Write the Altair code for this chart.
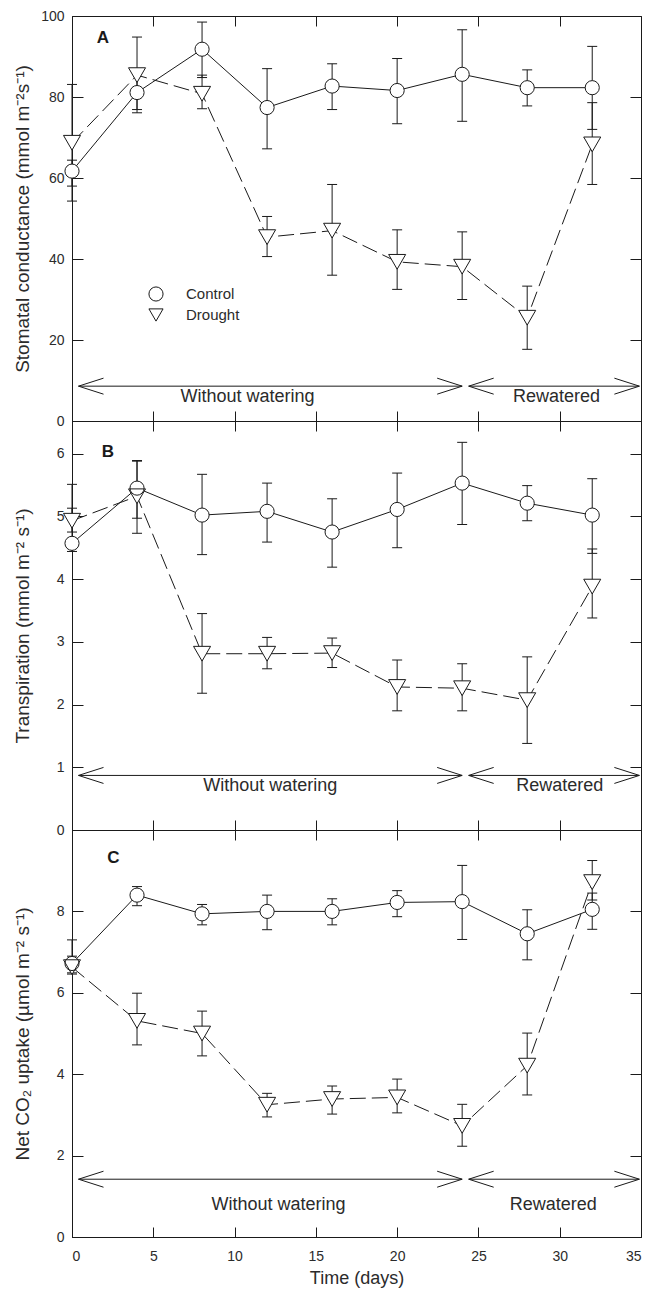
import altair as alt
import pandas as pd

# ---------------- data ----------------
days = [0, 4, 8, 12, 16, 20, 24, 28, 32]
groups = ["Control", "Drought"]

# Panel A: stomatal conductance
ctrl_A = [61.7, 81.1, 91.8, 77.4, 82.7, 81.6, 85.6, 82.3, 82.3]
ctrl_A_lo = [58.0, 76.1, 84.8, 67.2, 76.9, 73.4, 74.0, 77.8, 72.0]
ctrl_A_hi = [64.4, 86.0, 98.5, 87.0, 88.2, 89.5, 96.6, 86.7, 92.5]
drt_A = [68.7, 85.4, 80.8, 45.4, 47.0, 39.3, 38.1, 25.5, 68.3]
drt_A_lo = [54.3, 76.9, 77.1, 40.6, 36.0, 32.5, 30.0, 17.7, 58.4]
drt_A_hi = [83.1, 94.8, 85.4, 50.5, 58.4, 47.2, 46.7, 33.3, 78.6]

# Panel B: transpiration
ctrl_B = [4.57, 5.45, 5.02, 5.08, 4.75, 5.11, 5.53, 5.21, 5.02]
ctrl_B_lo = [4.44, 4.73, 4.39, 4.59, 4.19, 4.50, 4.87, 4.93, 4.41]
ctrl_B_hi = [5.13, 5.88, 5.67, 5.53, 5.28, 5.69, 6.18, 5.49, 5.60]
drt_B = [4.93, 5.32, 2.81, 2.81, 2.82, 2.28, 2.26, 2.07, 3.88]
drt_B_lo = [4.75, 4.97, 2.18, 2.57, 2.59, 1.90, 1.90, 1.38, 3.38]
drt_B_hi = [5.51, 5.89, 3.45, 3.07, 3.06, 2.71, 2.65, 2.76, 4.48]

# Panel C: net CO2 uptake
ctrl_C = [6.72, 8.40, 7.94, 8.00, 8.00, 8.22, 8.24, 7.45, 8.05]
ctrl_C_lo = [6.49, 8.14, 7.67, 7.55, 7.67, 7.87, 7.31, 6.81, 7.56]
ctrl_C_hi = [7.30, 8.61, 8.17, 8.40, 8.31, 8.51, 9.13, 8.04, 8.45]
drt_C = [6.63, 5.31, 5.00, 3.25, 3.39, 3.43, 2.73, 4.21, 8.72]
drt_C_lo = [6.46, 4.72, 4.45, 2.95, 3.02, 3.05, 2.23, 3.49, 8.28]
drt_C_hi = [6.90, 5.99, 5.55, 3.53, 3.71, 3.88, 3.26, 5.01, 9.25]

# annotations
phase_text = ["Without watering", "Rewatered"]
arrow_start = [0.4, 24.4]
arrow_end = [24.0, 34.9]
panel_letters = ["A", "B", "C"]

x_ticks = [0, 5, 10, 15, 20, 25, 30, 35]

# ---------------- styling ----------------
W = 569
FONT = "Liberation Sans, Arial, Helvetica, sans-serif"
INK = "#1a1a1a"
TXT = "#2b2b2b"
LEFT_HEAD = "M 2 -0.64 L 0 0 L 2 0.64"
RIGHT_HEAD = "M -2 -0.64 L 0 0 L -2 0.64"
SIZE_C, SIZE_D = 200, 290


def panel_df(c, clo, chi, d, dlo, dhi):
    rows = []
    for g, v, lo, hi in (("Control", c, clo, chi), ("Drought", d, dlo, dhi)):
        for day, a, l, h in zip(days, v, lo, hi):
            rows.append({"day": day, "group": g, "value": a, "lo": l, "hi": h})
    return pd.DataFrame(rows)


def make_panel(df, ymax, height, ytitle, ylabels, yticks, letter, letter_day, letter_val,
               arrow_y, text_days, text_y, show_x, show_legend):
    xs = alt.Scale(domain=[0, 35], nice=False, zero=False)
    ys = alt.Scale(domain=[0, ymax], nice=False, zero=False)
    base = alt.Chart(df)
    ctrl = base.transform_filter(alt.datum.group == "Control")
    drt = base.transform_filter(alt.datum.group == "Drought")

    def X(field):
        return alt.X(field, scale=xs, axis=None)

    def Y(field):
        return alt.Y(field, scale=ys, axis=None)

    line_c = ctrl.mark_line(color=INK, strokeWidth=1).encode(x=X("day:Q"), y=Y("value:Q"))
    line_d = drt.mark_line(color=INK, strokeWidth=1, strokeDash=[16, 6]).encode(x=X("day:Q"), y=Y("value:Q"))
    err = base.mark_rule(color=INK, strokeWidth=1).encode(x=X("day:Q"), y=Y("lo:Q"), y2="hi:Q")
    cap_lo = base.mark_point(shape="stroke", size=100, stroke=INK, strokeWidth=1, opacity=1).encode(
        x=X("day:Q"), y=Y("lo:Q"))
    cap_hi = base.mark_point(shape="stroke", size=100, stroke=INK, strokeWidth=1, opacity=1).encode(
        x=X("day:Q"), y=Y("hi:Q"))

    # white fills under the open markers (hide lines inside the symbols)
    fill_c = ctrl.mark_point(shape="circle", filled=True, color="white", opacity=1, size=SIZE_C).encode(
        x=X("day:Q"), y=Y("value:Q"))
    fill_d = drt.mark_point(shape="triangle-down", filled=True, color="white", opacity=1, size=SIZE_D).encode(
        x=X("day:Q"), y=Y("value:Q"))

    if show_legend:
        leg = alt.Legend(
            orient="none", legendX=76, legendY=270, title=None, padding=0,
            labelFont=FONT, labelFontSize=15, labelColor=TXT, labelOffset=22,
            symbolSize=200, symbolStrokeColor=INK, symbolStrokeWidth=1,
            symbolFillColor="white", rowPadding=2,
        )
    else:
        leg = None
    shape_enc = alt.Shape("group:N", scale=alt.Scale(domain=groups, range=["circle", "triangle-down"]), legend=leg)
    pts_c = ctrl.mark_point(filled=False, color=INK, strokeWidth=1, opacity=1, size=SIZE_C).encode(
        x=X("day:Q"), y=Y("value:Q"), shape=shape_enc)
    pts_d = drt.mark_point(filled=False, color=INK, strokeWidth=1, opacity=1, size=SIZE_D).encode(
        x=X("day:Q"), y=Y("value:Q"), shape=shape_enc)

    arr_df = pd.DataFrame({"x": arrow_start, "x2": arrow_end, "y": [arrow_y] * len(arrow_start)})
    arr = alt.Chart(arr_df).mark_rule(color=INK, strokeWidth=1).encode(x=X("x:Q"), x2="x2:Q", y=Y("y:Q"))
    head_l = alt.Chart(arr_df).mark_point(shape=LEFT_HEAD, size=625, filled=False, stroke=INK,
                                          strokeWidth=1, opacity=1).encode(x=X("x:Q"), y=Y("y:Q"))
    head_r = alt.Chart(arr_df).mark_point(shape=RIGHT_HEAD, size=625, filled=False, stroke=INK,
                                          strokeWidth=1, opacity=1).encode(x=X("x2:Q"), y=Y("y:Q"))
    txt_df = pd.DataFrame({"x": text_days, "y": [text_y] * len(text_days), "t": phase_text})
    txt = alt.Chart(txt_df).mark_text(font=FONT, fontSize=18, color=TXT, baseline="middle").encode(
        x=X("x:Q"), y=Y("y:Q"), text="t:N")
    let_df = pd.DataFrame({"x": [letter_day], "y": [letter_val], "t": [letter]})
    let = alt.Chart(let_df).mark_text(font=FONT, fontSize=17, fontWeight="bold", color=INK,
                                      baseline="middle").encode(x=X("x:Q"), y=Y("y:Q"), text="t:N")

    inner = alt.layer(line_c, line_d, err, cap_lo, cap_hi, arr, head_l, head_r, txt, let,
                      fill_c, fill_d, pts_c, pts_d)

    # main axes (labels + titles)
    yaxis_main = alt.Axis(
        orient="left", values=ylabels, ticks=False, tickSize=0, domain=True,
        domainColor=INK, labelFont=FONT, labelFontSize=14, labelColor=TXT,
        labelPadding=8, title=ytitle, titleFont=FONT, titleFontSize=19,
        titleFontWeight="normal", titleColor=TXT, titleX=-40, grid=False,
    )
    if show_x:
        xaxis_main = alt.Axis(
            orient="bottom", values=x_ticks, ticks=False, tickSize=0, domain=True,
            domainColor=INK, labelFont=FONT, labelFontSize=14, labelColor=TXT,
            labelPadding=12, title="Time (days)", titleFont=FONT, titleFontSize=18,
            titleFontWeight="normal", titleColor=TXT, titlePadding=6, grid=False,
        )
    else:
        xaxis_main = None
    t0 = base.mark_point(opacity=0).encode(
        x=alt.X("day:Q", scale=xs, axis=xaxis_main),
        y=alt.Y("value:Q", scale=ys, axis=yaxis_main),
    )

    # inward ticks on all four sides
    tick_common = dict(labels=False, domain=False, title=None, grid=False, tickColor=INK, tickWidth=1)
    t1 = base.mark_point(opacity=0).encode(
        x=alt.X("day:Q", scale=xs, axis=alt.Axis(orient="top", offset=-height, values=x_ticks,
                                                  tickSize=10, **tick_common)),
        y=alt.Y("value:Q", scale=ys, axis=alt.Axis(orient="right", offset=-W, values=yticks,
                                                    tickSize=11, **tick_common)),
    )
    t2 = base.mark_point(opacity=0).encode(
        x=alt.X("day:Q", scale=xs, axis=alt.Axis(orient="bottom", offset=-height, values=x_ticks,
                                                  tickSize=10, **tick_common)),
        y=alt.Y("value:Q", scale=ys, axis=alt.Axis(orient="left", offset=-W, values=yticks,
                                                    tickSize=11, **tick_common)),
    )
    return (
        alt.layer(inner, t0, t1, t2)
        .resolve_axis(x="independent", y="independent")
        .properties(width=W, height=height)
    )


dfA = panel_df(ctrl_A, ctrl_A_lo, ctrl_A_hi, drt_A, drt_A_lo, drt_A_hi)
dfB = panel_df(ctrl_B, ctrl_B_lo, ctrl_B_hi, drt_B, drt_B_lo, drt_B_hi)
dfC = panel_df(ctrl_C, ctrl_C_lo, ctrl_C_hi, drt_C, drt_C_lo, drt_C_hi)

pA = make_panel(dfA, 100, 405, "Stomatal conductance (mmol m\u207b\u00b2s\u207b\u00b9)",
                [0, 20, 40, 60, 80, 100], [0, 20, 40, 60, 80, 100],
                panel_letters[0], 1.9, 94.6, 8.6, [10.8, 29.8], 6.0, False, True)
pB = make_panel(dfB, 6.52, 409, "Transpiration (mmol m\u207b\u00b2 s\u207b\u00b9)",
                [0, 1, 2, 3, 4, 5, 6], [0, 1, 2, 3, 4, 5, 6],
                panel_letters[1], 2.2, 6.03, 0.87, [12.2, 30.0], 0.70, False, False)
pC = make_panel(dfC, 10, 407, "Net CO\u2082 uptake (\u00b5mol m\u207b\u00b2 s\u207b\u00b9)",
                [0, 2, 4, 6, 8], [0, 2, 4, 6, 8, 10],
                panel_letters[2], 2.55, 9.32, 1.42, [12.7, 29.6], 0.79, True, False)

chart = (
    alt.vconcat(pA, pB, pC, spacing=0, bounds="flush")
    .resolve_scale(shape="independent")
    .resolve_legend(shape="independent")
    .properties(padding={"left": 4, "top": 0, "right": 0, "bottom": 0}, background="white")
    .configure_view(stroke=INK, strokeWidth=1)
)

chart.save("out.html", embed_options={"renderer": "svg", "actions": False})
